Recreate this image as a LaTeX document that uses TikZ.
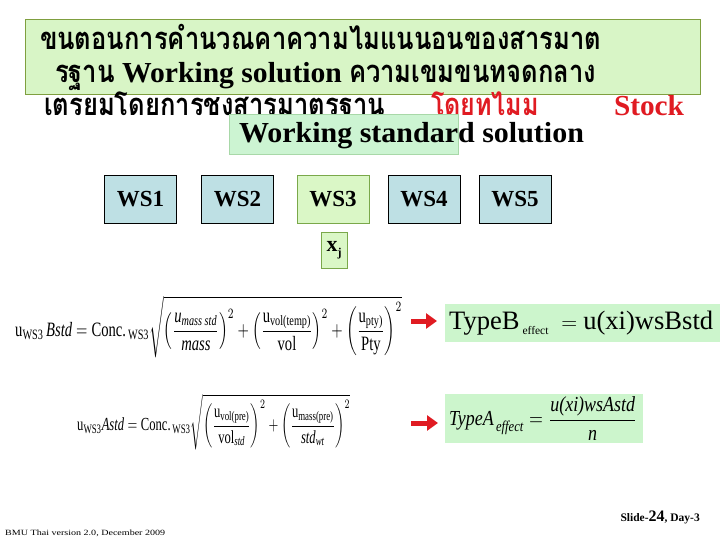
\documentclass[tikz,border=0pt]{standalone}
\usepackage{amsmath}
\usepackage{graphicx}
\usepackage{fontspec}
\setmainfont{Liberation Serif}
\newfontfamily\thai[Script=Thai]{Loma}
\usetikzlibrary{arrows.meta}
\definecolor{tgreen}{HTML}{D8F5C6}
\definecolor{tgreenline}{HTML}{7F9F3F}
\definecolor{mint}{HTML}{CCF4D2}
\definecolor{mintline}{HTML}{A8D8A8}
\definecolor{wsblue}{HTML}{BEE0E4}
\definecolor{ws3fill}{HTML}{DAF7C6}
\definecolor{ws3line}{HTML}{7AA84A}
\definecolor{effgreen}{HTML}{CCF5CC}
\definecolor{myred}{HTML}{E01B22}
\newcommand{\fitw}[2]{\resizebox{#1}{\height}{#2}}
\newcommand{\thaisz}{\thai\bfseries\fontsize{31}{31}\selectfont}
\tikzset{
  txt/.style={anchor=base west, inner sep=0pt, outer sep=0pt},
  wsbox/.style={draw=black, line width=0.9pt, fill=wsblue, minimum width=72pt, minimum height=48pt, inner sep=0pt, font=\fontsize{23}{23}\selectfont\bfseries},
  wsgreen/.style={wsbox, draw=ws3line, fill=ws3fill},
  effbox/.style={fill=effgreen, draw=none, inner sep=0pt, anchor=north west},
  redarrow/.style={draw=myred, line width=5pt, -{Triangle[length=11pt,width=15pt]}}
}
\begin{document}
\begin{tikzpicture}[x=1pt,y=-1pt]
\useasboundingbox[fill=white] (0,0) rectangle (720,540);
% title box
\node[draw=tgreenline, line width=0.8pt, fill=tgreen, anchor=north west, minimum width=675pt, minimum height=75pt, inner sep=0pt] (titlebox) at (25,19) {};
\node[txt] (l1) at (40,50) {\fitw{561pt}{\thaisz ขนตอนการคำนวณคาความไมแนนอนของสารมาต}};
\node[txt] (l2a) at (55,83) {\fitw{60pt}{\thaisz รฐาน}};
\node[txt] (l2b) at (122,83) {\fitw{220pt}{\bfseries\fontsize{29}{29}\selectfont Working solution}};
\node[txt] (l2c) at (349,83) {\fitw{247pt}{\thaisz ความเขมขนทจดกลาง}};
\node[txt] (l3a) at (44,116) {\fitw{341pt}{\thaisz เตรยมโดยการชงสารมาตรฐาน}};
\node[txt, text=myred] (l3b) at (431,116) {\fitw{108pt}{\thaisz โดยทไมม}};
\node[txt, text=myred] (l3c) at (614,116) {\fitw{70pt}{\bfseries\fontsize{29}{29}\selectfont Stock}};
% working standard solution
\node[draw=mintline, line width=0.8pt, fill=mint, anchor=north west, minimum width=229pt, minimum height=40pt, inner sep=0pt] (wssbox) at (229,114) {};
\node[txt] (wss) at (239,143) {\fitw{345pt}{\bfseries\fontsize{29}{29}\selectfont Working standard solution}};
% WS boxes
\node[wsbox] (ws1) at (140.5,199) {WS1};
\node[wsbox] (ws2) at (237.5,199) {WS2};
\node[wsgreen] (ws3) at (333,199) {WS3};
\node[wsbox] (ws4) at (424,199) {WS4};
\node[wsbox] (ws5) at (515,199) {WS5};
\node[draw=ws3line, line width=0.9pt, fill=ws3fill, minimum width=26pt, minimum height=36pt, inner sep=0pt] (xj) at (334,250) {\fontsize{22}{22}\selectfont\bfseries x\raisebox{-5pt}{\fontsize{12}{12}\selectfont j}};
% equation B
\node[anchor=west, inner sep=0pt] (eqB) at (15,327) {\resizebox*{387pt}{62pt}{$\displaystyle \text{u}_{\text{WS3}}\,\textit{Bstd} = \text{Conc.}_{\,\text{WS3}}\sqrt{\left(\frac{\textit{u}_{\textit{mass std}}}{\textit{mass}}\right)^{2}+\left(\frac{\text{u}_{\text{vol(temp)}}}{\text{vol}}\right)^{2}+\left(\frac{\text{u}_{\text{pty)}}}{\text{Pty}}\right)^{2}}$}};
% equation A
\node[anchor=west, inner sep=0pt] (eqA) at (77,422) {\resizebox*{273pt}{56pt}{$\displaystyle \text{u}_{\text{WS3}}\textit{Astd} = \text{Conc.}_{\,\text{WS3}}\sqrt{\left(\frac{\text{u}_{\text{vol(pre)}}}{\text{vol}_{\textit{std}}}\right)^{2}+\left(\frac{\text{u}_{\text{mass(pre)}}}{\textit{std}_{\textit{wt}}}\right)^{2}}$}};
% effect boxes
\node[effbox, minimum width=275pt, minimum height=38pt] (typeB) at (445,304) {};
\node[anchor=west, inner sep=0pt] (typeBt) at (449,323) {\resizebox{264pt}{!}{\fontsize{30}{30}\selectfont TypeB\raisebox{-6pt}{\fontsize{13}{13}\selectfont\ effect} ${}={}$u(xi)wsBstd}};
\node[effbox, minimum width=198pt, minimum height=49pt] (typeA) at (445,394) {};
\node[anchor=west, inner sep=0pt] (typeAt) at (449,418.5) {\resizebox*{188pt}{44pt}{$\textit{TypeA}_{\,\textit{effect}} = \dfrac{\textit{u(xi)wsAstd}}{\textit{n}}$}};
% arrows
\coordinate (aB) at (411,321);
\coordinate (aBe) at (437,321);
\coordinate (aA) at (411,423);
\coordinate (aAe) at (438,423);
\draw[redarrow] (aB) -- (aBe);
\draw[redarrow] (aA) -- (aAe);
% footer
\node[anchor=base east, inner sep=0pt] (slide) at (700,521) {\fontsize{11.5}{11.5}\selectfont\bfseries Slide-{\fontsize{16}{16}\selectfont 24}, Day-3};
\node[anchor=base west, inner sep=0pt] (bmu) at (5,535) {\fitw{160pt}{\fontsize{8}{8}\selectfont BMU Thai version 2.0, December 2009}};
\end{tikzpicture}
\end{document}
